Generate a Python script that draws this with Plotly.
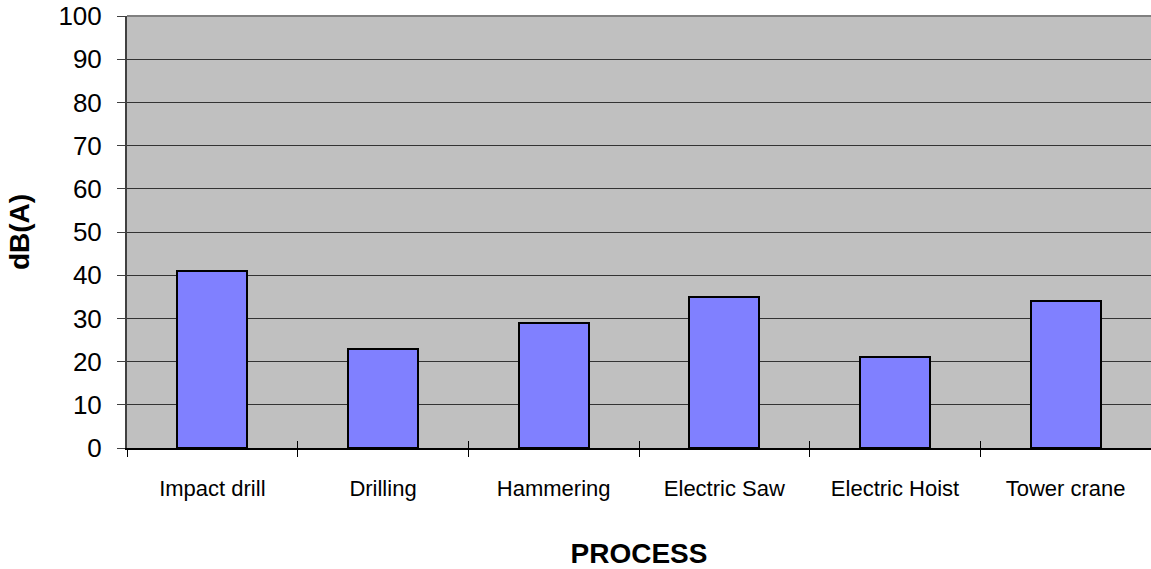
import plotly.graph_objects as go

categories = ["Impact drill", "Drilling", "Hammering", "Electric Saw", "Electric Hoist", "Tower crane"]
values = [41, 23, 29, 35, 21, 34]
y_ticks = [0, 10, 20, 30, 40, 50, 60, 70, 80, 90, 100]

positions = list(range(len(categories)))
boundaries = [p - 0.5 for p in positions] + [positions[-1] + 0.5]

fig = go.Figure()
fig.add_trace(go.Bar(
    x=positions, y=values, width=0.41,
    marker=dict(color="#8080FF", line=dict(color="#000000", width=2)),
    showlegend=False, hoverinfo="skip",
))
# invisible trace on secondary x axis for crossing tick marks
fig.add_trace(go.Scatter(x=[boundaries[0]], y=[0], xaxis="x2", mode="markers",
                         marker=dict(opacity=0), showlegend=False, hoverinfo="skip"))

font = "Liberation Sans, Arial, sans-serif"
rng = [boundaries[0], boundaries[-1]]
fig.update_layout(
    width=1151, height=569,
    margin=dict(l=127, r=0, t=16, b=121),
    paper_bgcolor="white", plot_bgcolor="#C0C0C0",
    bargap=0,
    font=dict(family=font, color="#000000"),
    xaxis=dict(
        range=rng, tickmode="array", tickvals=positions, ticktext=categories,
        ticks="", ticklabelstandoff=20,
        tickfont=dict(size=22),
        showgrid=False, zeroline=False,
        showline=True, linecolor="#000000", linewidth=2,
        minor=dict(tickmode="array", tickvals=boundaries, ticks="outside", ticklen=7,
                   tickcolor="#000000", tickwidth=1, showgrid=False),
        title=dict(text="<b>PROCESS</b>", font=dict(size=28), standoff=46),
    ),
    xaxis2=dict(
        range=rng, overlaying="x", anchor="y", side="bottom",
        tickmode="array", tickvals=boundaries, ticks="inside", ticklen=7,
        tickcolor="#000000", tickwidth=1, showticklabels=False,
        showgrid=False, zeroline=False, showline=False,
    ),
    yaxis=dict(
        range=[0, 100], tickmode="array", tickvals=y_ticks,
        ticks="outside", ticklen=8, tickcolor="#404040", tickwidth=1,
        tickfont=dict(size=26), ticklabelstandoff=10,
        showgrid=True, gridcolor="#333333", gridwidth=1,
        zeroline=False, showline=True, linecolor="#404040", linewidth=2,
        title=dict(text="<b>dB(A)</b>", font=dict(size=28), standoff=21),
    ),
    shapes=[dict(type="line", xref="paper", yref="paper", x0=0, x1=1, y0=1, y1=1,
                 line=dict(color="#808080", width=2))],
)

fig.write_html("out.html")
